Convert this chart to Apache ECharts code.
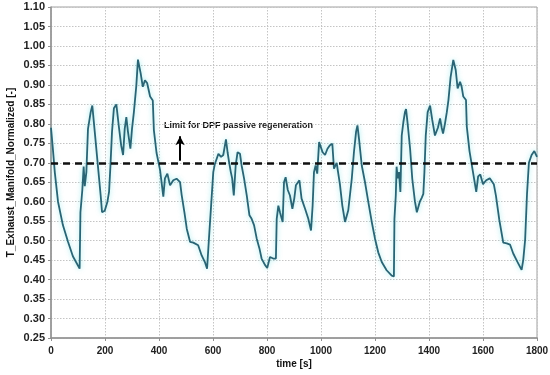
<!DOCTYPE html>
<html>
<head>
<meta charset="utf-8">
<script src="https://cdn.jsdelivr.net/npm/echarts@6/dist/echarts.min.js"></script>
<style>
html,body{margin:0;padding:0;background:#fff;}
#chart{width:550px;height:375px;}
</style>
</head>
<body>
<div id="chart"></div>
<script>
// ---- data ----
const timeS = [0,7,14,26,44,63,81,106,109,116,121,125,131,137,147,153,162,174,184,189,199,209,215,220,226,233,242,251,260,267,273,279,285,294,300,307,316,322,332,340,348,356,367,377,381,391,404,416,422,431,441,453,465,478,484,494,503,515,527,545,558,570,578,585,593,601,607,620,630,638,644,648,654,660,666,671,677,684,691,700,706,715,725,735,743,752,762,772,780,793,801,811,823,833,836,842,848,858,863,869,877,885,894,901,907,920,928,941,953,963,969,974,980,986,993,996,1006,1015,1024,1033,1042,1048,1058,1070,1079,1089,1095,1101,1107,1114,1122,1130,1135,1141,1151,1163,1175,1188,1200,1212,1225,1243,1262,1270,1272,1277,1280,1284,1289,1294,1299,1305,1311,1315,1321,1330,1338,1348,1355,1360,1366,1373,1379,1383,1388,1395,1404,1412,1422,1426,1433,1441,1447,1452,1459,1466,1472,1480,1490,1499,1506,1515,1521,1527,1537,1540,1550,1562,1575,1582,1590,1600,1612,1625,1640,1648,1660,1675,1688,1700,1712,1727,1743,1749,1756,1763,1770,1780,1790,1800];
const tempNorm = [0.79,0.735,0.676,0.60,0.54,0.497,0.46,0.428,0.573,0.63,0.69,0.64,0.676,0.787,0.83,0.847,0.78,0.69,0.616,0.573,0.577,0.60,0.625,0.69,0.78,0.84,0.85,0.795,0.744,0.72,0.787,0.817,0.78,0.736,0.787,0.83,0.898,0.965,0.93,0.895,0.912,0.905,0.87,0.86,0.784,0.725,0.681,0.613,0.66,0.672,0.642,0.655,0.659,0.65,0.617,0.573,0.53,0.497,0.495,0.488,0.462,0.445,0.428,0.505,0.59,0.676,0.697,0.723,0.715,0.72,0.744,0.76,0.727,0.70,0.676,0.66,0.616,0.693,0.727,0.723,0.693,0.66,0.616,0.565,0.556,0.54,0.505,0.48,0.454,0.437,0.43,0.458,0.454,0.454,0.556,0.59,0.573,0.548,0.65,0.663,0.63,0.616,0.582,0.608,0.642,0.655,0.608,0.582,0.556,0.526,0.59,0.676,0.693,0.672,0.753,0.75,0.727,0.72,0.736,0.745,0.749,0.685,0.70,0.645,0.59,0.548,0.544,0.578,0.58,0.659,0.727,0.78,0.796,0.76,0.693,0.65,0.60,0.548,0.505,0.47,0.445,0.424,0.41,0.408,0.556,0.616,0.69,0.66,0.676,0.625,0.77,0.804,0.83,0.838,0.80,0.736,0.659,0.60,0.573,0.577,0.60,0.61,0.62,0.676,0.77,0.83,0.847,0.81,0.77,0.775,0.79,0.814,0.79,0.775,0.80,0.83,0.861,0.92,0.964,0.938,0.891,0.908,0.895,0.87,0.861,0.793,0.73,0.68,0.625,0.665,0.67,0.645,0.655,0.66,0.645,0.615,0.555,0.495,0.493,0.49,0.467,0.446,0.425,0.45,0.502,0.62,0.70,0.72,0.73,0.715];
const limitValue = 0.70;
const limitText = 'Limit for DPF passive regeneration';
const arrowTime = 478;
const arrowFrom = 0.705;
const arrowTo = 0.768;
const xTicks = {min: 0, max: 1800, step: 200};
const yTicks = {min: 0.25, max: 1.10, step: 0.05};
const xName = 'time [s]';
const yName = 'T_Exhaust_Manifold_Normalized [-]';

const seriesData = timeS.map((t, i) => [t, tempNorm[i]]);
const FONT = '"Liberation Sans", Arial, sans-serif';

const chart = echarts.init(document.getElementById('chart'), null, {renderer: 'canvas'});
chart.setOption({
  animation: false,
  backgroundColor: '#ffffff',
  grid: {left: 51, right: 13, top: 7, bottom: 37, containLabel: false, outerBoundsMode: 'none',
         show: true, borderColor: '#a0a0a0', borderWidth: 1},
  xAxis: {
    type: 'value', min: xTicks.min, max: xTicks.max, interval: xTicks.step,
    name: xName, nameLocation: 'middle', nameGap: 21, nameMoveOverlap: false,
    nameTextStyle: {fontFamily: FONT, fontWeight: 'bold', fontSize: 10, color: '#111'},
    axisLine: {show: true, lineStyle: {color: '#909090', width: 1.5}},
    axisTick: {show: true, length: 3, lineStyle: {color: '#909090'}},
    axisLabel: {fontFamily: FONT, fontWeight: 'bold', fontSize: 10, color: '#222', margin: 8,
      formatter: v => String(v)},
    splitLine: {show: true, lineStyle: {color: '#c4c4c4', type: [1.5, 1.5], width: 1}}
  },
  yAxis: {
    type: 'value', min: yTicks.min, max: yTicks.max, interval: yTicks.step,
    name: yName, nameLocation: 'middle', nameGap: 35, nameRotate: 90, nameMoveOverlap: false,
    nameTextStyle: {fontFamily: FONT, fontWeight: 'bold', fontSize: 10, color: '#111'},
    axisLine: {show: true, lineStyle: {color: '#909090', width: 1.5}},
    axisTick: {show: true, length: 3, lineStyle: {color: '#909090'}},
    axisLabel: {fontFamily: FONT, fontWeight: 'bold', fontSize: 11, color: '#222', margin: 6,
      formatter: v => v.toFixed(2)},
    splitLine: {show: true, lineStyle: {color: '#c4c4c4', type: [1.5, 1.5], width: 1}}
  },
  series: [
    {
      type: 'line', data: seriesData, showSymbol: false, smooth: false,
      lineStyle: {color: '#2a6474', width: 1.8, shadowColor: 'rgba(110,225,230,0.7)', shadowBlur: 5},
      markLine: {
        silent: true, symbol: 'none', label: {show: false},
        lineStyle: {color: '#111', width: 2.5, type: [7, 5]},
        data: [{yAxis: limitValue}]
      },
      z: 2
    },
    {
      type: 'line', data: [], silent: true,
      markLine: {
        silent: true, symbol: ['none', 'arrow'], symbolSize: [7, 9],
        label: {show: false},
        lineStyle: {color: '#000', width: 2, type: 'solid'},
        data: [[{coord: [arrowTime, arrowFrom]}, {coord: [arrowTime, arrowTo]}]]
      },
      z: 3
    }
  ],
  graphic: [{
    type: 'text', left: 164, top: 121, silent: true,
    style: {text: limitText, fontFamily: FONT, fontWeight: 'bold', fontSize: 9, fill: '#111'}
  }]
});
</script>
</body>
</html>
